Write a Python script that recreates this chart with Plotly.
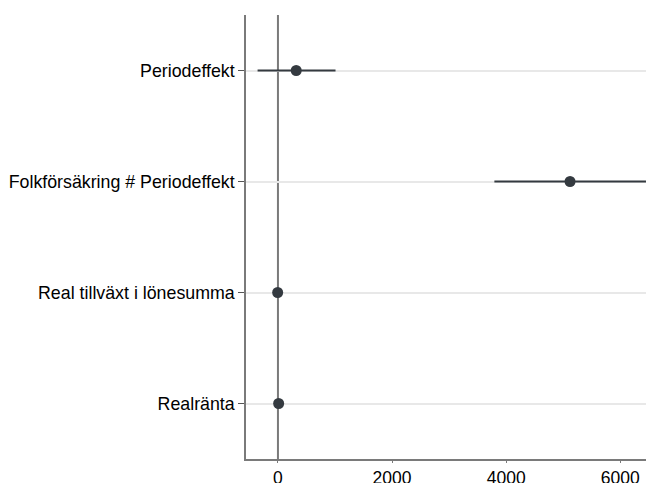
import plotly.graph_objects as go

categories = ["Periodeffekt", "Folkförsäkring # Periodeffekt", "Real tillväxt i lönesumma", "Realränta"]
coef = [320, 5119, -5, 12]
ci_low = [-357, 3793, -25, -10]
ci_high = [1009, 6450, 15, 34]
x_ticks = [0, 2000, 4000, 6000]

pos = [1, 2, 3, 4]
fig = go.Figure()
for p, lo, hi in zip(pos, ci_low, ci_high):
    fig.add_trace(go.Scatter(x=[lo, hi], y=[p, p], mode="lines",
                             line=dict(color="#343a40", width=2), showlegend=False, hoverinfo="skip"))
fig.add_trace(go.Scatter(x=coef, y=pos, mode="markers",
                         marker=dict(color="#343a40", size=11), showlegend=False))

fig.add_shape(type="line", x0=0, x1=0, y0=0, y1=1, yref="paper", xref="x",
              line=dict(color="#7a7a7a", width=2), layer="below")

fig.update_layout(
    width=646, height=475,
    margin=dict(l=238, r=1, t=7, b=24, autoexpand=False),
    plot_bgcolor="white", paper_bgcolor="white",
    font=dict(family="Liberation Sans, Arial, sans-serif", size=17.8, color="black"),
    xaxis=dict(range=[-560, 6573], tickvals=x_ticks, ticktext=[str(v) for v in x_ticks],
               showgrid=False, zeroline=False, showline=True, linecolor="#7a7a7a", linewidth=1.5,
               ticks="outside", ticklen=2, tickcolor="#7a7a7a", tickwidth=1,
               tickfont=dict(size=17.5), automargin=False),
    yaxis=dict(range=[4.5, 0.5], tickvals=pos, ticktext=categories,
               showgrid=True, gridcolor="#e8e8e8", gridwidth=1.5, zeroline=False,
               showline=True, linecolor="#7a7a7a", linewidth=1.5,
               ticks="outside", ticklen=6, tickcolor="#555555", tickwidth=1,
               tickfont=dict(size=17.8), automargin=False),
)
fig.write_html("out.html")
